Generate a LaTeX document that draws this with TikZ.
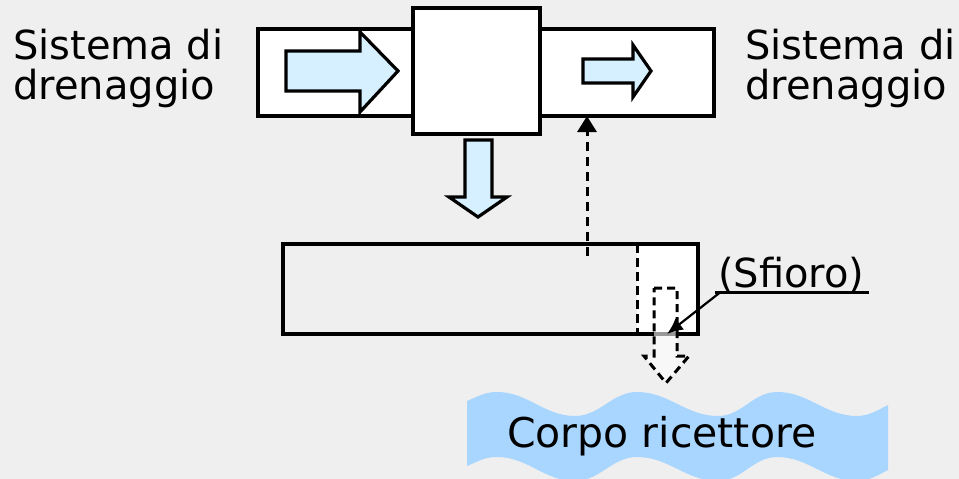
\documentclass[tikz,border=0pt]{standalone}
\usepackage{fontspec}
\setmainfont{DejaVu Sans}
\usetikzlibrary{arrows.meta}

\definecolor{bggrey}{HTML}{EFEFEF}
\definecolor{flowblue}{HTML}{D6F0FF}
\definecolor{waterblue}{HTML}{A8D6FF}

\tikzset{
  box/.style={draw, line width=3.2pt, fill=white, inner sep=0pt, outer sep=0pt},
  flowarrow/.style={draw, line width=3.2pt, fill=flowblue, line join=miter},
  overflowarrow/.style={draw, line width=3pt, fill=white, fill opacity=0.6,
    draw opacity=1, dash pattern=on 8pt off 5pt},
  label/.style={font=\fontsize{40}{40}\selectfont, inner sep=0pt, align=left},
  link/.style={line width=3pt, dash pattern=on 9pt off 6pt},
}

\begin{document}
\begin{tikzpicture}[x=1pt, y=-1pt]
  \useasboundingbox[fill=bggrey] (0,0) rectangle (959,479);

  % drainage pipes and the splitting chamber
  \node[box, minimum width=172pt, minimum height=87pt, anchor=north west] (pipeL) at (258,29) {};
  \node[box, minimum width=189pt, minimum height=87pt, anchor=north west] (pipeR) at (525,29) {};
  \node[box, minimum width=127pt, minimum height=126pt, anchor=north west] (chamber) at (413,8) {};

  % flow arrows
  \path[flowarrow] (286,51) -- (360,51) -- (360,32) -- (398,71) -- (360,112) -- (360,91) -- (286,91) -- cycle;
  \path[flowarrow] (583,59) -- (633,59) -- (633,45) -- (651,71) -- (633,97) -- (633,83) -- (583,83) -- cycle;
  \path[flowarrow] (465,140) -- (492,140) -- (492,197) -- (507,197) -- (478,217) -- (449,197) -- (465,197) -- cycle;

  % storage tank with the overflow section
  \fill[white] (637,244) rectangle (698,334);
  \node[box, fill=none, minimum width=415pt, minimum height=90pt, anchor=north west] (tank) at (283,244) {};
  \draw[line width=3pt, dash pattern=on 9pt off 5pt] (637,244) -- (637,334);

  % overflow outlet
  \path[overflowarrow] (654,288) -- (677,288) -- (677,356) -- (689,356) -- (666,383) -- (644,356) -- (654,356) -- cycle;
  \coordinate (outlet) at (667,334);

  % return flow from the tank to the downstream pipe
  \coordinate (riser) at (587,256);
  \draw[link, -{Triangle[length=16pt, width=19pt]}] (riser) -- (riser |- pipeR.south);

  % receiving water body: a wavy band
  \fill[waterblue]
    (467,401) .. controls (479,396) and (485,392) .. (497,392)
              .. controls (528,392) and (544,416) .. (575,416)
              .. controls (600,416) and (612,392) .. (637,392)
              .. controls (669,392) and (686,416) .. (718,416)
              .. controls (742,416) and (753,392) .. (777,392)
              .. controls (809,392) and (825,416) .. (857,416)
              .. controls (869,416) and (878,410) .. (888,405)
    -- (888,470)
              .. controls (878,475) and (869,481) .. (857,481)
              .. controls (825,481) and (809,457) .. (777,457)
              .. controls (753,457) and (742,481) .. (718,481)
              .. controls (686,481) and (669,457) .. (637,457)
              .. controls (612,457) and (600,481) .. (575,481)
              .. controls (544,481) and (528,457) .. (497,457)
              .. controls (485,457) and (479,461) .. (467,466)
    -- cycle;

  % labels
  \node[label, anchor=base west] (srcL) at (13,99) {Sistema di\\drenaggio};
  \node[label, anchor=base west] (srcR) at (745,99) {Sistema di\\drenaggio};
  \node[label, anchor=base west] (sfioro) at (718,287) {(Sfioro)};
  \draw[line width=2.2pt] ([xshift=-3pt]sfioro.south west) -- ([xshift=4pt]sfioro.south east);
  \draw[line width=2.2pt, -{Latex[length=16pt, width=14pt]}] ([xshift=2pt]sfioro.south west) -- (outlet);
  \node[font=\fontsize{41}{41}\selectfont, inner sep=0pt, anchor=base west] (water) at (507,447) {Corpo ricettore};
\end{tikzpicture}
\end{document}
